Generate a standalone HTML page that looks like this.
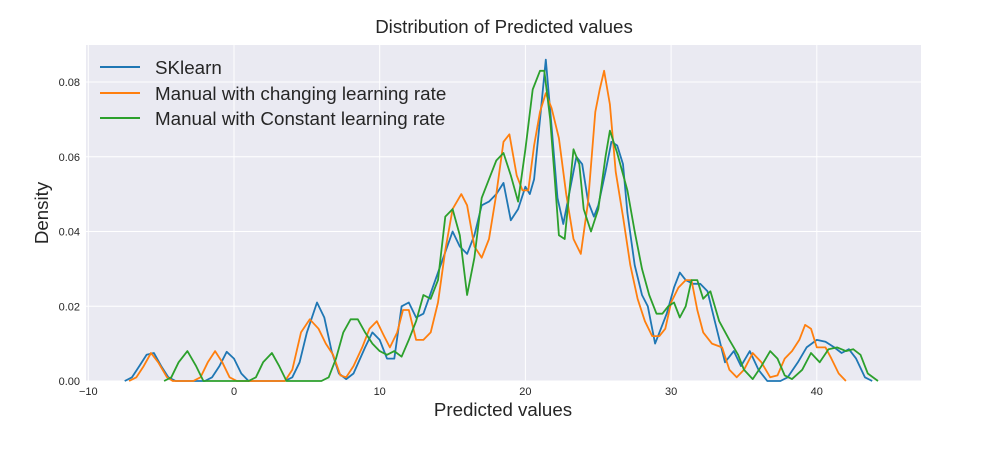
<!DOCTYPE html>
<html><head><meta charset="utf-8"><style>
body{margin:0;background:#fff;width:996px;height:445px;overflow:hidden}
svg text{font-family:"Liberation Sans",Arial,sans-serif}
</style></head><body>
<svg id="chart" width="996" height="445" xmlns="http://www.w3.org/2000/svg">
<rect x="86" y="45" width="835" height="336" fill="#EAEAF2"/>
<g id="grid"></g>
<g id="series"></g>
<g id="ticks"></g>
<text x="504" y="33" text-anchor="middle" font-size="18.7" fill="#262626">Distribution of Predicted values</text>
<text x="503" y="416" text-anchor="middle" font-size="18.7" fill="#262626">Predicted values</text>
<text transform="translate(48,213) rotate(-90)" text-anchor="middle" font-size="18.7" fill="#262626">Density</text>
<g>
<line x1="100" y1="67" x2="140" y2="67" stroke="#1f77b4" stroke-width="2"/>
<text x="155" y="74" font-size="18.8" fill="#262626">SKlearn</text>
<line x1="100" y1="93" x2="140" y2="93" stroke="#ff7f0e" stroke-width="2"/>
<text x="155" y="100" font-size="18.8" fill="#262626">Manual with changing learning rate</text>
<line x1="100" y1="118" x2="140" y2="118" stroke="#2ca02c" stroke-width="2"/>
<text x="155" y="125" font-size="18.8" fill="#262626">Manual with Constant learning rate</text>
</g>
</svg>
<script>
const xTicks=[-10,0,10,20,30,40];
const yTicks=[0,0.02,0.04,0.06,0.08];
const yTickLabels=["0.00","0.02","0.04","0.06","0.08"];
const blueX=[-7.5,-7,-6.5,-6,-5.5,-5,-4.5,-4,-2,-1.5,-1,-0.5,0,0.5,1,3.5,4,4.5,5,5.7,6.2,6.7,7.2,7.7,8.2,9,9.5,10,10.5,11,11.5,12,12.5,13,14,15,15.5,16,16.5,17,17.5,18,18.5,19,19.5,20,20.3,20.6,21,21.4,21.8,22.2,22.6,23,23.5,23.9,24.3,24.7,25,25.5,25.9,26.3,26.7,27,27.5,28,28.4,28.9,29.3,29.7,30.2,30.6,31,31.5,32,32.5,33,33.7,34.3,34.8,35.4,36,36.6,37.5,38,38.7,39.3,40,40.6,41.2,41.7,42.2,42.7,43.3,43.8];
const blueY=[0,0.001,0.004,0.007,0.0075,0.004,0.001,0,0,0.001,0.004,0.0078,0.006,0.002,0,0,0.001,0.005,0.013,0.021,0.017,0.008,0.002,0.0005,0.002,0.009,0.013,0.011,0.006,0.006,0.02,0.021,0.017,0.018,0.029,0.04,0.036,0.034,0.039,0.047,0.048,0.05,0.053,0.043,0.046,0.052,0.05,0.054,0.07,0.086,0.068,0.049,0.042,0.05,0.06,0.058,0.048,0.044,0.047,0.056,0.064,0.063,0.058,0.045,0.031,0.023,0.02,0.01,0.014,0.018,0.025,0.029,0.027,0.026,0.026,0.024,0.016,0.005,0.008,0.004,0.008,0.003,0,0,0.001,0.005,0.009,0.011,0.0105,0.009,0.0075,0.0085,0.006,0.001,0];
const orangeX=[-7.2,-6.7,-6.2,-5.7,-5.2,-4.6,-4.2,-2.8,-2.3,-1.8,-1.3,-0.8,-0.3,0.2,3.5,4,4.6,5.2,5.8,6.3,6.8,7.3,7.7,8.2,8.8,9.3,9.8,10.3,10.7,11.2,11.6,12,12.5,13,13.5,14,14.5,15,15.6,16,16.5,17,17.5,18,18.5,18.9,19.4,19.8,20.2,20.6,21,21.4,21.8,22.3,22.8,23.3,23.8,24.3,24.8,25.1,25.4,25.8,26.2,26.7,27.2,27.7,28.2,28.7,29.2,29.6,30,30.5,31,31.4,31.8,32.2,32.8,33.5,34,34.5,35,35.6,36.2,36.8,37.3,37.8,38.3,38.8,39.2,39.6,40,40.6,41,41.5,42];
const orangeY=[0,0.001,0.004,0.0075,0.005,0.001,0,0,0.001,0.005,0.008,0.005,0.001,0,0,0.003,0.013,0.0165,0.014,0.01,0.007,0.0015,0.001,0.004,0.009,0.014,0.016,0.012,0.009,0.013,0.019,0.019,0.011,0.011,0.013,0.021,0.035,0.046,0.05,0.047,0.036,0.033,0.038,0.05,0.064,0.066,0.055,0.051,0.051,0.063,0.072,0.077,0.073,0.065,0.05,0.038,0.034,0.048,0.072,0.078,0.083,0.074,0.056,0.044,0.031,0.022,0.016,0.012,0.012,0.014,0.021,0.025,0.027,0.027,0.019,0.013,0.01,0.009,0.003,0.001,0.003,0.0075,0.005,0.001,0.0015,0.006,0.008,0.011,0.015,0.014,0.009,0.009,0.006,0.002,0];
const greenX=[-4.8,-4.3,-3.8,-3.2,-2.6,-2.1,1,1.5,2,2.6,3.1,3.6,6,6.5,7,7.5,8,8.5,9,9.5,10,10.5,11,11.5,12,12.5,13,13.5,14,14.5,15,15.5,16,16.5,17,17.5,18,18.5,19,19.5,20,20.5,21,21.3,21.7,22,22.3,22.7,23,23.3,23.7,24,24.5,25,25.5,25.8,26.3,27,27.5,28,28.5,29,29.4,29.8,30.2,30.6,31,31.4,31.8,32.2,32.7,33.3,34,34.6,35,35.6,36.2,36.8,37.3,37.8,38.3,39,39.6,40.2,40.8,41.4,42,42.5,43,43.5,44.2];
const greenY=[0,0.001,0.005,0.008,0.004,0,0,0.001,0.005,0.0075,0.004,0,0,0.001,0.006,0.013,0.0165,0.0165,0.013,0.01,0.008,0.007,0.008,0.0065,0.011,0.016,0.023,0.022,0.027,0.044,0.046,0.039,0.023,0.033,0.049,0.054,0.059,0.061,0.055,0.048,0.062,0.078,0.083,0.083,0.07,0.055,0.039,0.038,0.05,0.062,0.058,0.046,0.04,0.046,0.06,0.067,0.061,0.051,0.04,0.03,0.023,0.018,0.018,0.02,0.021,0.017,0.02,0.027,0.027,0.022,0.024,0.016,0.011,0.007,0.003,0.0005,0.004,0.008,0.006,0.0015,0.0005,0.003,0.0075,0.005,0.0085,0.009,0.008,0.0085,0.007,0.002,0];
const xs=v=>234+14.57*v;
const ys=v=>381-3737.5*v;
const NS="http://www.w3.org/2000/svg";
const grid=document.getElementById('grid'),tk=document.getElementById('ticks'),ser=document.getElementById('series');
function mk(tag,attrs,parent){const e=document.createElementNS(NS,tag);for(const k in attrs)e.setAttribute(k,attrs[k]);parent.appendChild(e);return e;}
xTicks.forEach(t=>{
  const l=mk('line',{x1:xs(t),x2:xs(t),y1:45,y2:381,stroke:'#fff','stroke-width':1},grid);
  
  
  const tx=mk('text',{x:xs(t),y:395,'text-anchor':'middle','font-size':11,fill:'#262626'},tk);
  tx.textContent=t<0?'\u2212'+Math.abs(t):t;
  
  
});
yTicks.forEach((t,i)=>{
  const l=mk('line',{x1:86,x2:921,y1:ys(t),y2:ys(t),stroke:'#fff','stroke-width':1},grid);
  
  
  const tx=mk('text',{x:80,y:ys(t)+4,'text-anchor':'end','font-size':11,fill:'#262626'},tk);
  tx.textContent=yTickLabels[i];
  
  
});
[[blueX,blueY,'#1f77b4','sklearn-line'],[orangeX,orangeY,'#ff7f0e','changing-rate-line'],[greenX,greenY,'#2ca02c','constant-rate-line']].forEach(s=>{
  const pts=s[0].map((x,i)=>xs(x).toFixed(1)+','+ys(s[1][i]).toFixed(1)).join(' ');
  const p=mk('polyline',{points:pts,fill:'none',stroke:s[2],'stroke-width':1.8,'stroke-linejoin':'round'},ser);
  
  
});
</script>
</body></html>
